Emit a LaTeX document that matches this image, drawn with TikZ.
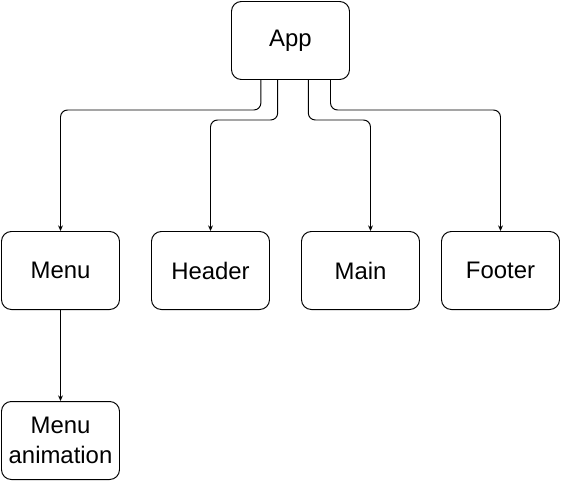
\documentclass[tikz,border=0pt]{standalone}
\usepackage{fontspec}
\setmainfont{Liberation Sans}
\usetikzlibrary{arrows.meta, positioning, calc}

\begin{document}
\begin{tikzpicture}[
    comp/.style={rectangle, rounded corners=7pt, draw=black, fill=white,
        minimum width=2.95cm, minimum height=1.95cm, align=center,
        font=\fontsize{17}{21.5}\selectfont, line width=0.7pt, inner sep=1pt},
    arr/.style={-{Stealth[length=4pt, width=3.5pt]}, line width=0.7pt, rounded corners=5pt}
]
\useasboundingbox (0,0) rectangle (14.025,-12.025);

% Root component
\node[comp] (app) at (7.2625,-1.0125) {App};

% Children
\node[comp] (menu) at (1.5125,-6.7625) {Menu};
\node[comp] (header) at (5.2625,-6.7625) {Header};
\node[comp] (main) at (9.0125,-6.7625) {Main};
\node[comp] (footer) at (12.5125,-6.7625) {Footer};

% Grandchild
\node[comp] (anim) at (1.5125,-11.0125) {Menu\\animation};

% Arrows
\draw[arr] ([xshift=-0.74cm]app.south) -- ++(0,-0.75) -| (menu.north);
\draw[arr] ([xshift=-0.32cm]app.south) -- ++(0,-1) -| (header.north);
\draw[arr] ([xshift=0.445cm]app.south) -- ++(0,-1) -| ([xshift=0.25cm]main.north);
\draw[arr] ([xshift=1cm]app.south) -- ++(0,-0.75) -| (footer.north);
\draw[arr] (menu) -- (anim);

\end{tikzpicture}
\end{document}
